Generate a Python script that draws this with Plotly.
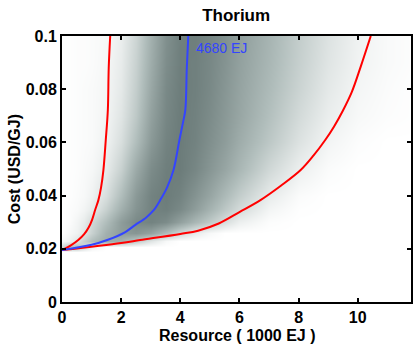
import plotly.graph_objects as go

# curve data (x in 1000 EJ, y in USD/GJ)
low_x = [0, 0.3, 0.55, 0.75, 0.9, 1.02, 1.12, 1.23, 1.32, 1.40, 1.48, 1.55, 1.58, 1.63]
low_y = [0.0195, 0.0213, 0.0233, 0.0255, 0.028, 0.031, 0.0346, 0.0383, 0.043, 0.0496, 0.0609, 0.0722, 0.088, 0.1]
med_x = [0, 1.0, 1.53, 2.14, 2.47, 2.85, 3.1, 3.32, 3.55, 3.77, 3.97, 4.1, 4.17, 4.22, 4.27]
med_y = [0.0195, 0.0215, 0.0233, 0.0263, 0.0289, 0.0318, 0.0345, 0.0383, 0.043, 0.0496, 0.0609, 0.068, 0.0722, 0.088, 0.1]
high_x = [0, 2.0, 2.64, 4.0, 4.6, 5.3, 6.0, 6.71, 7.4, 8.07, 8.5, 8.9, 9.2, 9.5, 9.8, 10.1, 10.44]
high_y = [0.0195, 0.0222, 0.0233, 0.0256, 0.0268, 0.0295, 0.0338, 0.0383, 0.0437, 0.0496, 0.055, 0.0609, 0.066,
          0.072, 0.079, 0.0885, 0.1]

# density shading, coarse grid estimated from the gray levels
grid_x = [0, 0.25, 0.5, 0.75, 1, 1.5, 2, 2.5, 3, 3.5, 4, 4.5, 5, 5.5, 6, 7, 8, 9, 10, 11, 11.8]
grid_y = [0, 0.0188, 0.0205, 0.023, 0.026, 0.03, 0.035, 0.04, 0.05, 0.06, 0.07, 0.08, 0.09, 0.1]
density = [
    [0] * 21,
    [0] * 21,
    [0.3, 0.5, 0.5, 0.3, 0.1, 0, 0, 0, 0, 0, 0, 0, 0, 0, 0, 0, 0, 0, 0, 0, 0],
    [0.05, 0.1, 0.2, 0.35, 0.5, 0.65, 0.6, 0.4, 0.2, 0.05, 0, 0, 0, 0, 0, 0, 0, 0, 0, 0, 0],
    [0, 0.05, 0.1, 0.2, 0.35, 0.6, 0.75, 0.8, 0.7, 0.5, 0.3, 0.15, 0.05, 0, 0, 0, 0, 0, 0, 0, 0],
    [0, 0.02, 0.08, 0.15, 0.3, 0.5, 0.75, 0.9, 0.95, 0.88, 0.72, 0.55, 0.4, 0.25, 0.12, 0.02, 0, 0, 0, 0, 0],
    [0, 0.02, 0.04, 0.08, 0.15, 0.35, 0.6, 0.82, 0.95, 0.98, 0.9, 0.75, 0.58, 0.42, 0.28, 0.08, 0.01, 0, 0, 0, 0],
    [0, 0.01, 0.03, 0.05, 0.1, 0.25, 0.5, 0.78, 0.95, 1.0, 0.95, 0.82, 0.68, 0.52, 0.38, 0.15, 0.03, 0, 0, 0, 0],
    [0, 0.01, 0.02, 0.04, 0.06, 0.15, 0.35, 0.65, 0.88, 0.98, 1.0, 0.92, 0.8, 0.68, 0.55, 0.3, 0.12, 0.03, 0, 0, 0],
    [0, 0.01, 0.02, 0.03, 0.04, 0.1, 0.25, 0.5, 0.78, 0.95, 1.0, 0.95, 0.85, 0.75, 0.63, 0.42, 0.22, 0.08, 0.02, 0, 0],
    [0.01, 0.01, 0.02, 0.03, 0.04, 0.08, 0.2, 0.42, 0.72, 0.92, 1.0, 0.96, 0.88, 0.78, 0.68, 0.48, 0.28, 0.13, 0.05, 0.02, 0.01],
    [0.01, 0.01, 0.02, 0.03, 0.04, 0.07, 0.17, 0.38, 0.67, 0.9, 0.99, 0.97, 0.9, 0.8, 0.7, 0.52, 0.33, 0.17, 0.07, 0.03, 0.01],
    [0.01, 0.01, 0.02, 0.02, 0.03, 0.06, 0.15, 0.35, 0.63, 0.87, 0.98, 0.97, 0.91, 0.82, 0.72, 0.55, 0.36, 0.2, 0.09, 0.04, 0.02],
    [0.01, 0.01, 0.02, 0.02, 0.03, 0.05, 0.13, 0.32, 0.6, 0.85, 0.97, 0.98, 0.92, 0.84, 0.74, 0.57, 0.38, 0.22, 0.1, 0.04, 0.02],
]

median_label = "4680 EJ"
FONT = "Liberation Sans"

fig = go.Figure()

fig.add_trace(go.Heatmap(
    x=grid_x, y=grid_y, z=density, zsmooth="best",
    colorscale=[[0, "#ffffff"], [0.5, "#b0bdbb"], [1, "#6c7c7a"]],
    zmin=0, zmax=1, showscale=False, hoverinfo="skip"))

for xs, ys, col in [(low_x, low_y, "#ff0000"), (high_x, high_y, "#ff0000"),
                    (med_x, med_y, "#3344ff")]:
    fig.add_trace(go.Scatter(x=xs, y=ys, mode="lines",
                             line=dict(color=col, width=2, shape="spline", smoothing=1.0),
                             showlegend=False, hoverinfo="skip"))

fig.add_annotation(text=median_label, x=4.45, y=0.0955, xanchor="left",
                   showarrow=False, font=dict(color="#3344ff", size=14, family=FONT))

# axis titles placed as annotations so they sit where the reference has them
fig.add_annotation(text="<b>Resource ( 1000 EJ )</b>", xref="paper", yref="paper",
                   x=0.503, y=-0.125, xanchor="center", yanchor="middle", showarrow=False,
                   font=dict(family=FONT, size=16, color="black"))
fig.add_annotation(text="<b>Cost (USD/GJ)</b>", xref="paper", yref="paper",
                   x=-0.137, y=0.5, xanchor="center", yanchor="middle",
                   textangle=-90, showarrow=False,
                   font=dict(family=FONT, size=16, color="black"))

axis_common = dict(showgrid=False, zeroline=False, showline=True, linecolor="black",
                   linewidth=2, mirror="ticks", ticks="inside", ticklen=4,
                   tickcolor="black", tickwidth=1.5, automargin=False,
                   tickfont=dict(family=FONT, size=16, color="black", weight="bold"))

fig.update_layout(
    width=415, height=346,
    margin=dict(l=62, r=4, t=36, b=44),
    plot_bgcolor="white", paper_bgcolor="white",
    title=dict(text="<b>Thorium</b>", x=0.569, xanchor="center", y=0.957, yanchor="middle",
               font=dict(family=FONT, size=17, color="black")),
    xaxis=dict(range=[0, 11.8], tickvals=[0, 2, 4, 6, 8, 10], **axis_common),
    yaxis=dict(range=[0, 0.1], tickvals=[0, 0.02, 0.04, 0.06, 0.08, 0.1],
               ticktext=["0", "0.02", "0.04", "0.06", "0.08", "0.1"], **axis_common),
)

fig.write_html("out.html", config={"displayModeBar": False},
               post_script="document.body.style.margin='0';")
